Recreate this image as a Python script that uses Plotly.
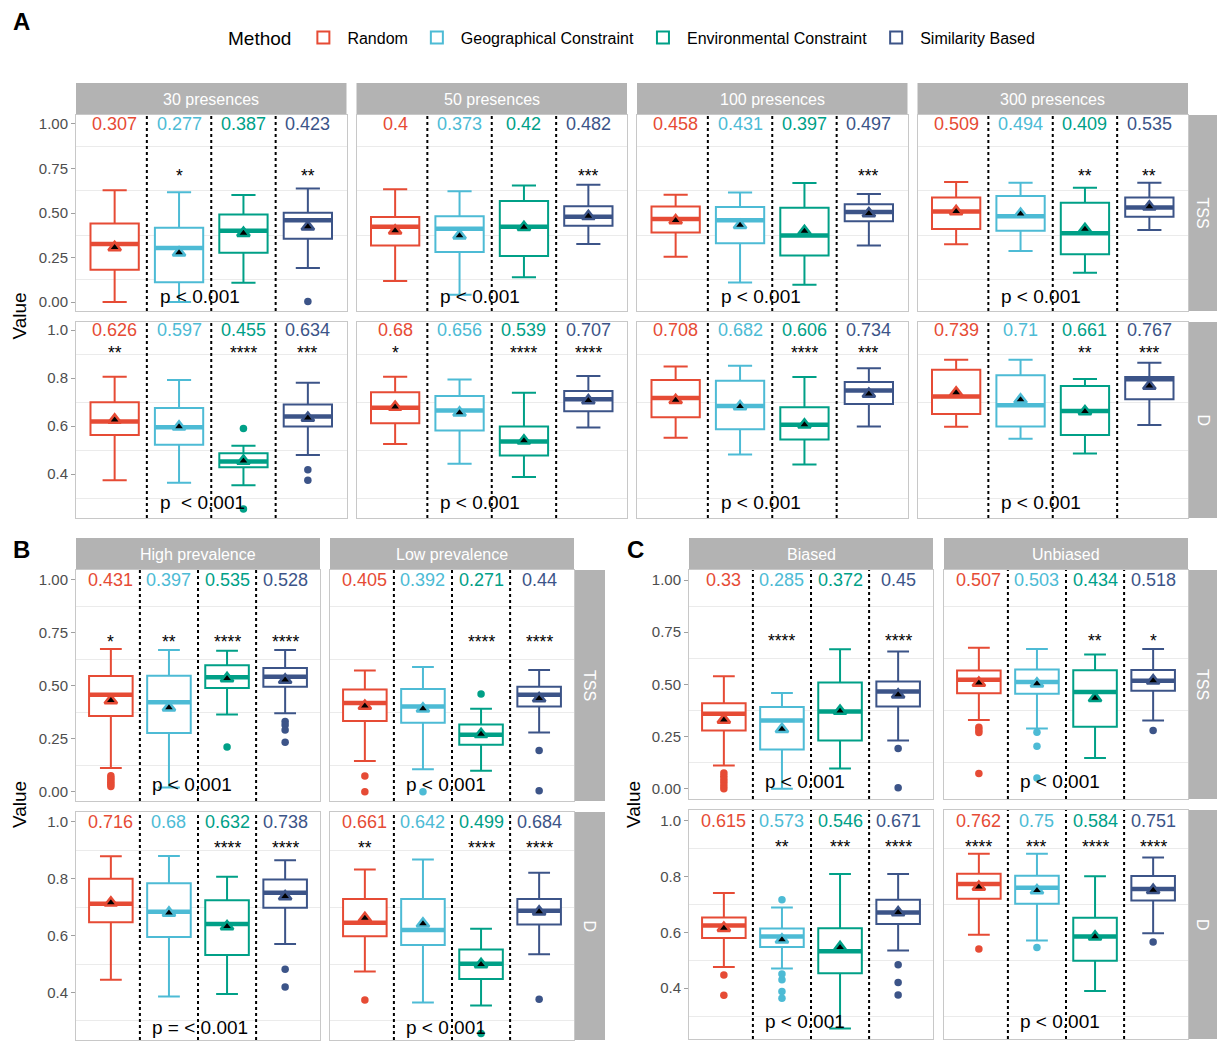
import plotly.graph_objects as go

# ---------------- data ----------------
methods = ["Random", "Geographical Constraint", "Environmental Constraint", "Similarity Based"]
colors = ["#E64B35", "#4DBBD5", "#00A087", "#3C5488"]

A_facets = ["30 presences", "50 presences", "100 presences", "300 presences"]
B_facets = ["High prevalence", "Low prevalence"]
C_facets = ["Biased", "Unbiased"]
row_labels = ["TSS", "D"]

TSS_ticks = [0.0, 0.25, 0.5, 0.75, 1.0]
D_ticks = [0.4, 0.6, 0.8, 1.0]
TSS_minor = [0.125, 0.375, 0.625, 0.875]
D_minor = [0.3, 0.5, 0.7, 0.9]

# Panel A, TSS (facets: 30, 50, 100, 300 presences; methods R, G, E, S)
A_TSS_lower = [[0.0, 0.0, 0.108, 0.192], [0.119, 0.041, 0.140, 0.326], [0.255, 0.110, 0.097, 0.317], [0.324, 0.287, 0.164, 0.404]]
A_TSS_q1 = [[0.181, 0.112, 0.277, 0.356], [0.317, 0.281, 0.259, 0.428], [0.391, 0.330, 0.261, 0.454], [0.410, 0.400, 0.268, 0.479]]
A_TSS_med = [[0.326, 0.304, 0.400, 0.460], [0.423, 0.412, 0.423, 0.479], [0.466, 0.460, 0.374, 0.505], [0.508, 0.482, 0.387, 0.531]]
A_TSS_q3 = [[0.441, 0.417, 0.492, 0.501], [0.477, 0.482, 0.568, 0.538], [0.536, 0.533, 0.529, 0.549], [0.587, 0.596, 0.557, 0.587]]
A_TSS_upper = [[0.628, 0.616, 0.601, 0.637], [0.633, 0.622, 0.655, 0.659], [0.603, 0.615, 0.669, 0.607], [0.674, 0.670, 0.642, 0.670]]
A_TSS_mean = [[0.307, 0.277, 0.387, 0.423], [0.4, 0.373, 0.42, 0.482], [0.458, 0.431, 0.397, 0.497], [0.509, 0.494, 0.409, 0.535]]
A_TSS_out = [[[], [], [], [0.004]], [[], [], [], []], [[], [], [], []], [[], [], [], []]]
A_TSS_stars = [["", "*", "", "**"], ["", "", "", "***"], ["", "", "", "***"], ["", "", "**", "**"]]
A_TSS_p = ["p < 0.001", "p < 0.001", "p < 0.001", "p < 0.001"]

# Panel A, D
A_D_lower = [[0.374, 0.364, 0.353, 0.480], [0.525, 0.443, 0.388, 0.594], [0.552, 0.482, 0.440, 0.598], [0.597, 0.547, 0.486, 0.605]]
A_D_q1 = [[0.563, 0.522, 0.429, 0.598], [0.612, 0.582, 0.478, 0.662], [0.637, 0.587, 0.544, 0.692], [0.651, 0.598, 0.563, 0.712]]
A_D_med = [[0.619, 0.595, 0.453, 0.640], [0.677, 0.665, 0.536, 0.712], [0.717, 0.684, 0.606, 0.748], [0.723, 0.687, 0.663, 0.795]]
A_D_q3 = [[0.699, 0.676, 0.487, 0.690], [0.741, 0.726, 0.598, 0.746], [0.792, 0.789, 0.679, 0.784], [0.835, 0.812, 0.767, 0.805]]
A_D_upper = [[0.806, 0.792, 0.518, 0.781], [0.806, 0.794, 0.739, 0.809], [0.848, 0.852, 0.805, 0.841], [0.877, 0.877, 0.796, 0.864]]
A_D_mean = [[0.626, 0.597, 0.455, 0.634], [0.68, 0.656, 0.539, 0.707], [0.708, 0.682, 0.606, 0.734], [0.739, 0.71, 0.661, 0.767]]
A_D_out = [[[], [], [0.590, 0.255], [0.418, 0.374]], [[], [], [], []], [[], [], [], []], [[], [], [], []]]
A_D_stars = [["**", "", "****", "***"], ["*", "", "****", "****"], ["", "", "****", "***"], ["", "", "**", "***"]]
A_D_p = ["p\u00a0 < 0.001", "p < 0.001", "p < 0.001", "p < 0.001"]

# Panel B, TSS (High, Low prevalence)
B_TSS_lower = [[0.112, 0.020, 0.365, 0.370], [0.145, 0.106, 0.099, 0.280]]
B_TSS_q1 = [[0.357, 0.277, 0.490, 0.496], [0.334, 0.326, 0.222, 0.402]]
B_TSS_med = [[0.458, 0.422, 0.540, 0.543], [0.419, 0.402, 0.269, 0.458]]
B_TSS_q3 = [[0.546, 0.548, 0.597, 0.584], [0.483, 0.485, 0.317, 0.496]]
B_TSS_upper = [[0.674, 0.669, 0.666, 0.669], [0.572, 0.589, 0.392, 0.575]]
B_TSS_mean = [[0.431, 0.397, 0.535, 0.528], [0.405, 0.392, 0.271, 0.44]]
B_TSS_out = [[[0.075, 0.065, 0.055, 0.045, 0.035, 0.025], [], [0.211], [0.331, 0.315, 0.291, 0.233]],
             [[0.074, 0.0], [0.0], [0.461], [0.194, 0.005]]]
B_TSS_stars = [["*", "**", "****", "****"], ["", "", "****", "****"]]
B_TSS_p = ["p < 0.001", "p < 0.001"]

# Panel B, D
B_D_lower = [[0.445, 0.386, 0.395, 0.571], [0.474, 0.365, 0.354, 0.535]]
B_D_q1 = [[0.647, 0.595, 0.532, 0.698], [0.598, 0.567, 0.448, 0.639]]
B_D_med = [[0.712, 0.684, 0.641, 0.751], [0.645, 0.620, 0.501, 0.688]]
B_D_q3 = [[0.800, 0.784, 0.725, 0.798], [0.729, 0.729, 0.551, 0.729]]
B_D_upper = [[0.879, 0.880, 0.807, 0.865], [0.833, 0.868, 0.624, 0.821]]
B_D_mean = [[0.716, 0.68, 0.632, 0.738], [0.661, 0.642, 0.499, 0.684]]
B_D_out = [[[], [], [], [0.482, 0.419]], [[0.374], [], [0.256], [0.376]]]
B_D_stars = [["", "", "****", "****"], ["**", "", "****", "****"]]
B_D_p = ["p = < 0.001", "p < 0.001"]

# Panel C, TSS (Biased, Unbiased)
C_TSS_lower = [[0.112, 0.0, 0.097, 0.231], [0.330, 0.289, 0.148, 0.327]]
C_TSS_q1 = [[0.279, 0.188, 0.231, 0.394], [0.458, 0.455, 0.297, 0.470]]
C_TSS_med = [[0.359, 0.327, 0.370, 0.466], [0.522, 0.512, 0.463, 0.517]]
C_TSS_q3 = [[0.410, 0.392, 0.509, 0.514], [0.566, 0.571, 0.568, 0.569]]
C_TSS_upper = [[0.539, 0.459, 0.668, 0.657], [0.675, 0.670, 0.643, 0.670]]
C_TSS_mean = [[0.33, 0.285, 0.372, 0.45], [0.507, 0.503, 0.434, 0.518]]
C_TSS_out = [[[0.075, 0.06, 0.045, 0.03, 0.015, 0.0], [], [], [0.193, 0.005]],
             [[0.295, 0.282, 0.27, 0.073], [0.271, 0.204, 0.051], [], [0.279]]]
C_TSS_stars = [["", "****", "", "****"], ["", "", "**", "*"]]
C_TSS_p = ["p < 0.001", "p < 0.001"]

# Panel C, D
C_D_lower = [[0.476, 0.470, 0.256, 0.535], [0.591, 0.571, 0.390, 0.597]]
C_D_q1 = [[0.580, 0.547, 0.453, 0.630], [0.720, 0.702, 0.498, 0.714]]
C_D_med = [[0.624, 0.585, 0.532, 0.671], [0.773, 0.760, 0.585, 0.755]]
C_D_q3 = [[0.653, 0.614, 0.615, 0.717], [0.810, 0.803, 0.652, 0.802]]
C_D_upper = [[0.741, 0.689, 0.809, 0.809], [0.881, 0.881, 0.801, 0.868]]
C_D_mean = [[0.615, 0.573, 0.546, 0.671], [0.762, 0.75, 0.584, 0.751]]
C_D_out = [[[0.447, 0.375], [0.717, 0.451, 0.430, 0.388, 0.364], [], [0.484, 0.420, 0.376]],
           [[0.540], [0.546], [], [0.565]]]
C_D_stars = [["", "**", "***", "****"], ["****", "***", "****", "****"]]
C_D_p = ["p < 0.001", "p < 0.001"]

# ---------------- layout helpers ----------------
W, H = 1217, 1041
OFF = 0  # body margin removed in the page (see write_html below)
FONT = "Liberation Sans, Arial, sans-serif"
BORDER = "#C8C8C8"
STRIP = "#B3B3B3"


def fx(p):
    return (p - OFF) / W


def fy(p):
    return 1 - (p - OFF) / H


fig = go.Figure()
lay = {}
ann = []
shp = []
state = {"n": 0, "legend": True}


def add_row(xs, yrow, yrange, ticks, tickfmt, minor, star_y, p_y, g):
    lower, q1, med, q3, upper, mean, outl, stars, ptext = g
    for f, (x0, x1) in enumerate(xs):
        state["n"] += 1
        n = state["n"]
        xa = "x" if n == 1 else f"x{n}"
        ya = "y" if n == 1 else f"y{n}"
        first = f == 0
        lay["xaxis" if n == 1 else f"xaxis{n}"] = dict(
            domain=[fx(x0), fx(x1)], range=[0.4, 4.6], anchor=ya,
            showticklabels=False, ticks="", showgrid=False, zeroline=False,
            showline=True, mirror=True, linecolor=BORDER, linewidth=1)
        lay["yaxis" if n == 1 else f"yaxis{n}"] = dict(
            domain=[fy(yrow[1]), fy(yrow[0])], range=list(yrange), anchor=xa,
            tickmode="array", tickvals=ticks, tickformat=tickfmt,
            showticklabels=first, ticks="outside" if first else "", ticklen=4,
            tickcolor="#A0A0A0", tickfont=dict(size=15, color="#4D4D4D", family=FONT),
            showgrid=False, zeroline=False, showline=True, mirror=True,
            linecolor=BORDER, linewidth=1,
            minor=dict(tickmode="array", tickvals=minor, showgrid=True,
                       gridcolor="#EBEBEB", gridwidth=1, ticks=""))
        for m in range(4):
            pos = m + 1
            c = colors[m]
            fig.add_trace(go.Box(
                x=[pos], q1=[q1[f][m]], median=[med[f][m]], q3=[q3[f][m]],
                lowerfence=[lower[f][m]], upperfence=[upper[f][m]],
                width=0.75, whiskerwidth=0.5, line=dict(color=c, width=2),
                fillcolor="white", name=methods[m], legendgroup=methods[m],
                showlegend=state["legend"], xaxis=xa, yaxis=ya, hoverinfo="skip"))
            fig.add_trace(go.Scatter(
                x=[pos - 0.375, pos + 0.375], y=[med[f][m], med[f][m]], mode="lines",
                line=dict(color=c, width=4.5), showlegend=False, xaxis=xa, yaxis=ya,
                hoverinfo="skip"))
            if outl[f][m]:
                fig.add_trace(go.Scatter(
                    x=[pos] * len(outl[f][m]), y=outl[f][m], mode="markers",
                    marker=dict(color=c, size=7.5, symbol="circle"), showlegend=False,
                    xaxis=xa, yaxis=ya, hoverinfo="skip"))
            fig.add_trace(go.Scatter(
                x=[pos], y=[mean[f][m]], mode="markers",
                marker=dict(symbol="triangle-up", size=11, color="black",
                            line=dict(color=c, width=2.5)),
                showlegend=False, xaxis=xa, yaxis=ya, hoverinfo="skip"))
            ann.append(dict(x=pos, y=1.0, xref=xa, yref=ya, text=f"{round(mean[f][m], 3):g}",
                            showarrow=False, font=dict(size=18, color=c, family=FONT),
                            xanchor="center", yanchor="middle"))
            if stars[f][m]:
                ann.append(dict(x=pos, y=star_y, xref=xa, yref=ya, text=stars[f][m],
                                showarrow=False, font=dict(size=17.5, color="black", family=FONT),
                                xanchor="center", yanchor="middle"))
        for sep in (1.5, 2.5, 3.5):
            shp.append(dict(type="line", xref=xa, yref=f"{ya} domain", x0=sep, x1=sep,
                            y0=0, y1=1, line=dict(color="black", width=2, dash="dot")))
        ann.append(dict(x=1.67, y=p_y, xref=xa, yref=ya, text=ptext[f], showarrow=False,
                        font=dict(size=19, color="black", family=FONT),
                        xanchor="left", yanchor="middle"))
        state["legend"] = False


def add_strips(xs, facets, strip_y, rx, rows_y):
    for (x0, x1), name in zip(xs, facets):
        shp.append(dict(type="rect", xref="paper", yref="paper", x0=fx(x0), x1=fx(x1),
                        y0=fy(strip_y[1]), y1=fy(strip_y[0]), fillcolor=STRIP,
                        line=dict(width=0), layer="below"))
        ann.append(dict(x=fx((x0 + x1) / 2), y=fy((strip_y[0] + strip_y[1]) / 2),
                        xref="paper", yref="paper", text=name, showarrow=False,
                        xanchor="center", yanchor="middle",
                        font=dict(size=16, color="white", family=FONT)))
    for (y0, y1), name in zip(rows_y, row_labels):
        shp.append(dict(type="rect", xref="paper", yref="paper", x0=fx(rx[0]), x1=fx(rx[1]),
                        y0=fy(y1), y1=fy(y0), fillcolor=STRIP, line=dict(width=0),
                        layer="below"))
        ann.append(dict(x=fx((rx[0] + rx[1]) / 2), y=fy((y0 + y1) / 2), xref="paper",
                        yref="paper", text=name, showarrow=False, textangle=90,
                        xanchor="center", yanchor="middle",
                        font=dict(size=16, color="white", family=FONT)))


# Panel A
A_xs = [(76, 346.5), (356.5, 627), (637, 907.5), (917.5, 1188)]
A_rows = [(115, 311), (322, 518)]
add_row(A_xs, A_rows[0], (-0.05, 1.05), TSS_ticks, ".2f", TSS_minor, 0.707, 0.032,
        (A_TSS_lower, A_TSS_q1, A_TSS_med, A_TSS_q3, A_TSS_upper, A_TSS_mean, A_TSS_out, A_TSS_stars, A_TSS_p))
add_row(A_xs, A_rows[1], (0.217, 1.034), D_ticks, ".1f", D_minor, 0.905, 0.28,
        (A_D_lower, A_D_q1, A_D_med, A_D_q3, A_D_upper, A_D_mean, A_D_out, A_D_stars, A_D_p))
add_strips(A_xs, A_facets, (83, 115), (1188, 1217), A_rows)

# Panel B
B_xs = [(76, 320), (330, 574)]
B_rows = [(570, 801), (812, 1040)]
add_row(B_xs, B_rows[0], (-0.044, 1.047), TSS_ticks, ".2f", TSS_minor, 0.707, 0.032,
        (B_TSS_lower, B_TSS_q1, B_TSS_med, B_TSS_q3, B_TSS_upper, B_TSS_mean, B_TSS_out, B_TSS_stars, B_TSS_p))
add_row(B_xs, B_rows[1], (0.233, 1.035), D_ticks, ".1f", D_minor, 0.907, 0.276,
        (B_D_lower, B_D_q1, B_D_med, B_D_q3, B_D_upper, B_D_mean, B_D_out, B_D_stars, B_D_p))
add_strips(B_xs, B_facets, (538, 570), (574, 605), B_rows)

# Panel C
C_xs = [(689, 933), (944, 1188)]
C_rows = [(570, 799), (810, 1039)]
add_row(C_xs, C_rows[0], (-0.049, 1.048), TSS_ticks, ".2f", TSS_minor, 0.707, 0.033,
        (C_TSS_lower, C_TSS_q1, C_TSS_med, C_TSS_q3, C_TSS_upper, C_TSS_mean, C_TSS_out, C_TSS_stars, C_TSS_p))
add_row(C_xs, C_rows[1], (0.218, 1.038), D_ticks, ".1f", D_minor, 0.905, 0.279,
        (C_D_lower, C_D_q1, C_D_med, C_D_q3, C_D_upper, C_D_mean, C_D_out, C_D_stars, C_D_p))
add_strips(C_xs, C_facets, (538, 570), (1188, 1217), C_rows)

# Panel letters and axis titles
for letter, (lx, ly) in zip(["A", "B", "C"], [(11, 22), (11, 549), (625, 549)]):
    ann.append(dict(x=fx(lx), y=fy(ly), xref="paper", yref="paper", text=f"<b>{letter}</b>",
                    showarrow=False, xanchor="left", yanchor="middle",
                    font=dict(size=24, color="black", family=FONT)))
for vx, vy in [(19, 316.5), (19, 805), (633, 805)]:
    ann.append(dict(x=fx(vx), y=fy(vy), xref="paper", yref="paper", text="Value",
                    showarrow=False, textangle=-90, xanchor="center", yanchor="middle",
                    font=dict(size=19, color="black", family=FONT)))

fig.update_layout(
    width=W, height=H, margin=dict(l=0, r=0, t=0, b=0),
    paper_bgcolor="white", plot_bgcolor="white",
    font=dict(family=FONT),
    boxmode="overlay",
    showlegend=True,
    legend=dict(orientation="h", x=fx(226), y=fy(38), xanchor="left", yanchor="middle",
                title=dict(text="Method", font=dict(size=19, color="black", family=FONT)),
                font=dict(size=16, color="black", family=FONT), itemwidth=38,
                bgcolor="rgba(0,0,0,0)", traceorder="normal"),
    annotations=ann, shapes=shp, **lay)

fig.write_html("out.html", config={"displayModeBar": False},
               post_script="document.body.style.margin='0px';document.body.style.overflow='hidden';")
